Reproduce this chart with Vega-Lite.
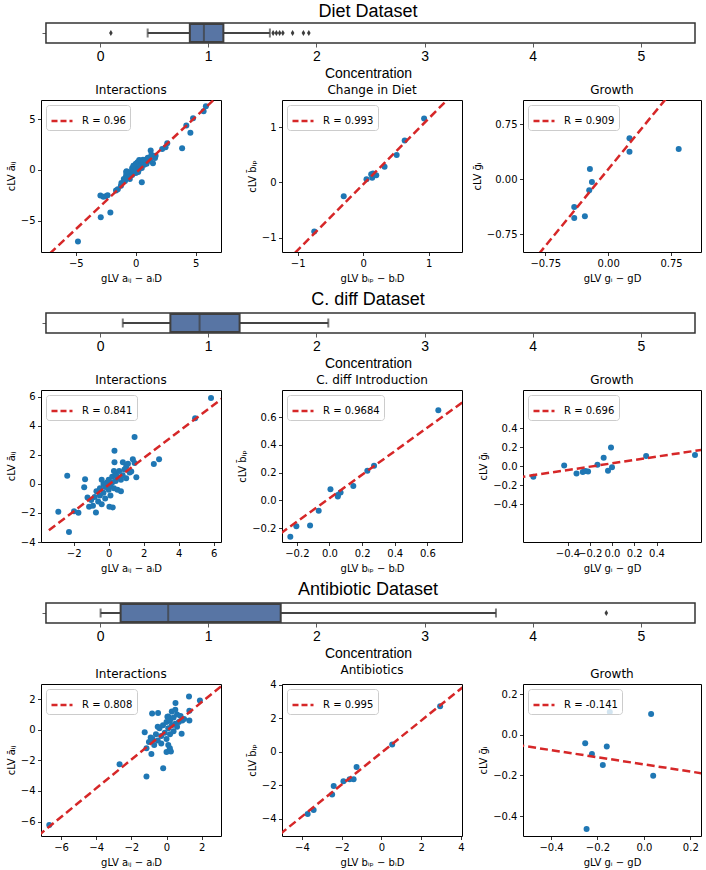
{
"$schema": "https://vega.github.io/schema/vega-lite/v6.json",
"background": "white",
"autosize": {"type": "pad"},
"padding": {"top": 2, "left": 5, "right": 4, "bottom": 2},
"config": {
  "font": "DejaVu Sans",
  "view": {"stroke": "#000000", "strokeWidth": 1},
  "axis": {"grid": false, "domain": false, "labelFont": "DejaVu Sans", "labelFontSize": 10, "labelColor": "#000000", "tickColor": "#000000", "tickSize": 3.5, "tickWidth": 0.8, "labelPadding": 2.5, "titleFont": "DejaVu Sans", "titleFontSize": 10, "titleFontWeight": "normal", "titleColor": "#000000", "titlePadding": 4, "labelFlush": false, "labelOverlap": false},
  "axisX": {"titlePadding": 5.5, "labelOverlap": false},
  "axisY": {"labelOverlap": false},
  "title": {"font": "DejaVu Sans", "fontSize": 12, "fontWeight": "normal", "color": "#000000", "offset": 2.8},
  "legend": {"orient": "top-left", "offset": 5, "padding": 4, "strokeColor": "#cccccc", "fillColor": "rgba(255,255,255,0.8)", "cornerRadius": 3, "labelFont": "DejaVu Sans", "labelFontSize": 10, "labelColor": "#000000", "symbolType": "stroke", "symbolSize": 441, "symbolStrokeWidth": 2.5, "symbolDash": [6, 3], "labelOffset": 8}
},
"datasets": {
  "box": [
    {"ds": "Diet", "lower": 0.44, "q1": 0.83, "median": 0.96, "q3": 1.14, "upper": 1.57},
    {"ds": "Cdiff", "lower": 0.21, "q1": 0.65, "median": 0.92, "q3": 1.29, "upper": 2.11},
    {"ds": "Antibiotic", "lower": 0.005, "q1": 0.19, "median": 0.63, "q3": 1.67, "upper": 3.66}
  ],
  "outliers": [
    {"ds": "Diet", "v": 0.10}, {"ds": "Diet", "v": 1.60}, {"ds": "Diet", "v": 1.63}, {"ds": "Diet", "v": 1.66}, {"ds": "Diet", "v": 1.69}, {"ds": "Diet", "v": 1.78}, {"ds": "Diet", "v": 1.88}, {"ds": "Diet", "v": 1.93},
    {"ds": "Antibiotic", "v": 4.68}
  ],
  "lines": [
    {"p": "diet_int", "x": -7.9, "y": -9.07, "R": "R = 0.96"}, {"p": "diet_int", "x": 7.1, "y": 7.58, "R": "R = 0.96"},
    {"p": "diet_chg", "x": -1.3, "y": -1.583, "R": "R = 0.993"}, {"p": "diet_chg", "x": 1.6, "y": 1.868, "R": "R = 0.993"},
    {"p": "diet_gro", "x": -1.1, "y": -1.403, "R": "R = 0.909"}, {"p": "diet_gro", "x": 0.8, "y": 1.257, "R": "R = 0.909"},
    {"p": "cd_int", "x": -3.42, "y": -3.19, "R": "R = 0.841"}, {"p": "cd_int", "x": 6.6, "y": 6.0, "R": "R = 0.841"},
    {"p": "cd_intro", "x": -0.3, "y": -0.239, "R": "R = 0.9684"}, {"p": "cd_intro", "x": 0.85, "y": 0.736, "R": "R = 0.9684"},
    {"p": "cd_gro", "x": -0.85, "y": -0.122, "R": "R = 0.696"}, {"p": "cd_gro", "x": 0.85, "y": 0.178, "R": "R = 0.696"},
    {"p": "ab_int", "x": -7.3, "y": -6.92, "R": "R = 0.808"}, {"p": "ab_int", "x": 3.2, "y": 2.93, "R": "R = 0.808"},
    {"p": "ab_ab", "x": -5.1, "y": -4.91, "R": "R = 0.995"}, {"p": "ab_ab", "x": 4.1, "y": 3.86, "R": "R = 0.995"},
    {"p": "ab_gro", "x": -0.55, "y": -0.049, "R": "R = -0.141"}, {"p": "ab_gro", "x": 0.27, "y": -0.193, "R": "R = -0.141"}
  ],
  "diet_int": [
    {"x": -4.82, "y": -7.07}, {"x": -2.92, "y": -4.67}, {"x": -2.12, "y": -4.21}, {"x": -2.95, "y": -2.53}, {"x": -2.7, "y": -2.65}, {"x": -2.5, "y": -2.6}, {"x": -2.35, "y": -2.5},
    {"x": -1.65, "y": -2.04}, {"x": -1.5, "y": -1.9}, {"x": -1.24, "y": -1.55}, {"x": -0.96, "y": -1.05}, {"x": -0.83, "y": -0.72}, {"x": -0.77, "y": -0.13}, {"x": -0.41, "y": -0.39},
    {"x": -0.28, "y": 0.1}, {"x": -0.14, "y": 0.43}, {"x": 0.0, "y": -0.07}, {"x": 0.14, "y": 0.76}, {"x": 0.28, "y": 0.99}, {"x": 0.5, "y": -1.22}, {"x": 0.55, "y": 0.59},
    {"x": 0.83, "y": 0.92}, {"x": 1.1, "y": 1.18}, {"x": 1.24, "y": 1.91}, {"x": 1.43, "y": 0.66}, {"x": 1.6, "y": 1.18}, {"x": 1.65, "y": 1.41}, {"x": 2.2, "y": 2.07},
    {"x": 2.48, "y": 2.24}, {"x": 2.62, "y": 2.63}, {"x": 3.86, "y": 2.14}, {"x": 4.21, "y": 4.38}, {"x": 4.55, "y": 3.68}, {"x": 4.77, "y": 5.1}, {"x": 5.65, "y": 5.79}, {"x": 5.84, "y": 6.28},
    {"x": -1.2, "y": -1.3}, {"x": -1.0, "y": -0.9}, {"x": -0.9, "y": -1.1}, {"x": -0.8, "y": -0.5}, {"x": -0.7, "y": -0.8}, {"x": -0.6, "y": -0.3}, {"x": -0.5, "y": -0.6},
    {"x": -0.4, "y": -0.2}, {"x": -0.3, "y": -0.5}, {"x": -0.3, "y": 0.2}, {"x": -0.2, "y": -0.1}, {"x": -0.1, "y": 0.3}, {"x": 0.0, "y": -0.3}, {"x": 0.0, "y": 0.2},
    {"x": 0.1, "y": 0.0}, {"x": 0.1, "y": 0.5}, {"x": 0.2, "y": -0.2}, {"x": 0.2, "y": 0.3}, {"x": 0.3, "y": 0.6}, {"x": 0.3, "y": 0.1}, {"x": 0.4, "y": 0.9},
    {"x": 0.4, "y": 0.4}, {"x": 0.5, "y": 0.2}, {"x": 0.6, "y": 0.7}, {"x": 0.7, "y": 0.5}, {"x": 0.8, "y": 1.0}, {"x": 0.9, "y": 0.6}, {"x": 1.0, "y": 1.2},
    {"x": 1.2, "y": 0.9}, {"x": 1.3, "y": 1.5}, {"x": -0.5, "y": -0.9}, {"x": -0.8, "y": -0.2}, {"x": 0.6, "y": 1.0}, {"x": 0.0, "y": 0.6}, {"x": -0.2, "y": 0.4}
  ],
  "diet_chg": [
    {"x": -0.747, "y": -0.89}, {"x": -0.297, "y": -0.253}, {"x": 0.051, "y": 0.054}, {"x": 0.123, "y": 0.145}, {"x": 0.138, "y": 0.084}, {"x": 0.2, "y": 0.127},
    {"x": 0.15, "y": 0.16}, {"x": 0.327, "y": 0.283}, {"x": 0.512, "y": 0.494}, {"x": 0.634, "y": 0.759}, {"x": 0.931, "y": 1.157}
  ],
  "diet_gro": [
    {"x": 0.254, "y": 0.561}, {"x": 0.254, "y": 0.378}, {"x": 0.841, "y": 0.415}, {"x": -0.218, "y": 0.141}, {"x": -0.194, "y": -0.036},
    {"x": -0.226, "y": -0.15}, {"x": -0.405, "y": -0.378}, {"x": -0.405, "y": -0.529}, {"x": -0.278, "y": -0.506}
  ],
  "cd_int": [
    {"x": 5.85, "y": 5.93}, {"x": 4.94, "y": 4.54}, {"x": 1.48, "y": 3.24}, {"x": 0.33, "y": 2.29}, {"x": 0.33, "y": 1.5}, {"x": -2.37, "y": 0.56}, {"x": -1.35, "y": 0.32},
    {"x": -1.4, "y": -0.23}, {"x": -2.88, "y": -1.92}, {"x": -2.27, "y": -3.31}, {"x": -1.98, "y": -1.88}, {"x": -1.73, "y": -1.99}, {"x": -1.21, "y": -0.93}, {"x": -1.12, "y": -1.57},
    {"x": -0.73, "y": -1.97}, {"x": 0.04, "y": -1.57}, {"x": 0.23, "y": -1.62}, {"x": 1.58, "y": 0.46}, {"x": 2.58, "y": 1.37}, {"x": 2.88, "y": 1.71}, {"x": 0.81, "y": 1.5},
    {"x": 1.38, "y": 1.71}, {"x": 1.29, "y": 0.86}, {"x": 1.0, "y": 1.2}, {"x": 1.48, "y": 1.44},
    {"x": -0.8, "y": -0.9}, {"x": -0.7, "y": -0.5}, {"x": -0.6, "y": -1.2}, {"x": -0.5, "y": -0.3}, {"x": -0.5, "y": -0.8}, {"x": -0.4, "y": -1.4}, {"x": -0.3, "y": -0.6},
    {"x": -0.3, "y": 0.0}, {"x": -0.2, "y": -0.2}, {"x": -0.2, "y": -1.0}, {"x": -0.1, "y": 0.1}, {"x": 0.0, "y": -0.4}, {"x": 0.0, "y": 0.3}, {"x": 0.1, "y": -0.1},
    {"x": 0.1, "y": -0.8}, {"x": 0.2, "y": 0.5}, {"x": 0.2, "y": 0.1}, {"x": 0.3, "y": -0.3}, {"x": 0.4, "y": 0.7}, {"x": 0.4, "y": 0.2}, {"x": 0.5, "y": -0.4},
    {"x": 0.5, "y": 0.5}, {"x": 0.6, "y": 0.9}, {"x": 0.7, "y": 0.3}, {"x": 0.8, "y": 0.6}, {"x": 0.9, "y": 1.0}, {"x": 1.0, "y": 0.4}, {"x": 1.1, "y": 1.4},
    {"x": 1.2, "y": 0.8}, {"x": 0.7, "y": -0.5}, {"x": -0.9, "y": -1.5}, {"x": -1.0, "y": -1.1}, {"x": 0.3, "y": 0.9}, {"x": -0.4, "y": 0.3}
  ],
  "cd_intro": [
    {"x": 0.667, "y": 0.65}, {"x": 0.273, "y": 0.249}, {"x": 0.232, "y": 0.213}, {"x": 0.146, "y": 0.104}, {"x": 0.068, "y": 0.056}, {"x": 0.051, "y": 0.027},
    {"x": 0.051, "y": 0.039}, {"x": 0.006, "y": 0.08}, {"x": -0.066, "y": -0.075}, {"x": -0.119, "y": -0.181}, {"x": -0.203, "y": -0.186}, {"x": -0.24, "y": -0.263}
  ],
  "cd_gro": [
    {"x": -0.707, "y": -0.113}, {"x": -0.43, "y": 0.004}, {"x": -0.319, "y": -0.078}, {"x": -0.263, "y": -0.064}, {"x": -0.239, "y": -0.053}, {"x": -0.215, "y": -0.057},
    {"x": -0.131, "y": 0.014}, {"x": -0.075, "y": 0.088}, {"x": -0.009, "y": 0.195}, {"x": 0.0, "y": -0.014}, {"x": -0.036, "y": -0.05}, {"x": 0.307, "y": 0.106}, {"x": 0.746, "y": 0.117}
  ],
  "ab_int": [
    {"x": -6.67, "y": -6.22}, {"x": -2.67, "y": -2.25}, {"x": -1.14, "y": -3.06}, {"x": -0.19, "y": -2.51}, {"x": -1.24, "y": -0.17}, {"x": -0.82, "y": 1.07},
    {"x": -0.48, "y": 1.09}, {"x": 0.1, "y": 0.87}, {"x": 0.51, "y": 1.75}, {"x": 1.28, "y": 2.18}, {"x": 1.9, "y": 1.92}, {"x": 1.3, "y": 1.24}, {"x": 1.3, "y": 0.61},
    {"x": 0.86, "y": -0.26}, {"x": -1.14, "y": -1.2}, {"x": -0.86, "y": -1.59}, {"x": 0.0, "y": -1.46}, {"x": 0.25, "y": -1.42}, {"x": 0.19, "y": -1.2},
    {"x": -0.8, "y": -0.6}, {"x": -0.6, "y": -0.3}, {"x": -0.5, "y": -0.7}, {"x": -0.4, "y": 0.1}, {"x": -0.3, "y": -0.4}, {"x": -0.2, "y": 0.3}, {"x": -0.1, "y": -0.2},
    {"x": 0.0, "y": 0.5}, {"x": 0.0, "y": -0.6}, {"x": 0.1, "y": 0.1}, {"x": 0.2, "y": 0.6}, {"x": 0.2, "y": -0.3}, {"x": 0.3, "y": 0.3}, {"x": 0.4, "y": 0.8},
    {"x": 0.4, "y": -0.1}, {"x": 0.5, "y": 0.4}, {"x": 0.6, "y": 1.0}, {"x": 0.7, "y": 0.5}, {"x": 0.8, "y": 0.9}, {"x": 0.9, "y": 0.6}, {"x": -0.7, "y": -1.0},
    {"x": -0.3, "y": -0.9}, {"x": 0.1, "y": -1.0}, {"x": 0.3, "y": 1.2}, {"x": -1.0, "y": -0.8}, {"x": -0.5, "y": 0.2}, {"x": 0.05, "y": 0.85}, {"x": 0.5, "y": 1.3},
    {"x": -0.9, "y": -0.5}, {"x": 1.0, "y": 0.7}, {"x": 0.6, "y": 0.2}
  ],
  "ab_ab": [
    {"x": 2.95, "y": 2.72}, {"x": 0.54, "y": 0.44}, {"x": -1.25, "y": -0.91}, {"x": -1.4, "y": -1.63}, {"x": -1.6, "y": -1.63}, {"x": -1.91, "y": -1.75},
    {"x": -2.4, "y": -2.04}, {"x": -2.48, "y": -2.54}, {"x": -3.41, "y": -3.47}, {"x": -3.71, "y": -3.71}
  ],
  "ab_gro": [
    {"x": -0.147, "y": 0.112}, {"x": 0.031, "y": 0.102}, {"x": -0.253, "y": -0.041}, {"x": -0.224, "y": -0.094}, {"x": -0.16, "y": -0.058},
    {"x": -0.177, "y": -0.148}, {"x": 0.04, "y": -0.202}, {"x": -0.247, "y": -0.464}
  ]
},
"spacing": 2,
"resolve": {"scale": {"color": "independent"}, "legend": {"color": "independent"}},
"vconcat": [
  {
    "width": 654, "height": 20, "view": {"stroke": null},
    "title": {"text": "Diet Dataset", "font": "Liberation Sans", "fontSize": 18, "offset": 1.7},
    "layer": [
      {"data": {"name": "box"}, "transform": [{"filter": "datum.ds === 'Diet'"}], "mark": {"type": "rect", "fill": "white", "stroke": "#333333", "strokeWidth": 1.5},
       "encoding": {"x": {"datum": -0.5, "type": "quantitative", "title": "Concentration", "scale": {"domain": [-0.546, 5.5], "nice": false, "zero": false}, "axis": {"values": [0, 1, 2, 3, 4, 5], "format": "d", "labelFont": "Liberation Sans", "labelFontSize": 14, "titleFont": "Liberation Sans", "titleFontSize": 14, "tickSize": 4, "tickColor": "#333333", "titlePadding": 2.8}}, "x2": {"datum": 5.5}}},
      {"data": {"name": "box"}, "transform": [{"filter": "datum.ds === 'Diet'"}], "mark": {"type": "rule", "color": "#444444", "strokeWidth": 2.2},
       "encoding": {"x": {"field": "lower", "type": "quantitative", "title": "Concentration"}, "x2": {"field": "upper"}, "y": {"field": "ds", "type": "nominal", "scale": {"paddingInner": 0, "paddingOuter": 0.05}, "axis": {"labels": false, "title": null, "ticks": true, "tickSize": 4, "tickColor": "#333333", "offset": -5}}}},
      {"data": {"name": "box"}, "transform": [{"filter": "datum.ds === 'Diet'"}], "mark": {"type": "tick", "color": "#444444", "size": 9, "thickness": 2},
       "encoding": {"x": {"field": "lower", "type": "quantitative", "title": "Concentration"}, "y": {"field": "ds", "type": "nominal", "title": null}}},
      {"data": {"name": "box"}, "transform": [{"filter": "datum.ds === 'Diet'"}], "mark": {"type": "tick", "color": "#444444", "size": 9, "thickness": 2},
       "encoding": {"x": {"field": "upper", "type": "quantitative", "title": "Concentration"}, "y": {"field": "ds", "type": "nominal", "title": null}}},
      {"data": {"name": "box"}, "transform": [{"filter": "datum.ds === 'Diet'"}], "mark": {"type": "bar", "fill": "#5875a4", "stroke": "#3f3f3f", "strokeWidth": 2},
       "encoding": {"x": {"field": "q1", "type": "quantitative", "title": "Concentration"}, "x2": {"field": "q3"}, "y": {"field": "ds", "type": "nominal", "title": null}}},
      {"data": {"name": "box"}, "transform": [{"filter": "datum.ds === 'Diet'"}], "mark": {"type": "tick", "color": "#3f3f3f", "size": 18, "thickness": 2},
       "encoding": {"x": {"field": "median", "type": "quantitative", "title": "Concentration"}, "y": {"field": "ds", "type": "nominal", "title": null}}},
      {"data": {"name": "outliers"}, "transform": [{"filter": "datum.ds === 'Diet'"}], "mark": {"type": "point", "shape": "M0,-1L0.6,0L0,1L-0.6,0Z", "filled": true, "color": "#3d3d3d", "opacity": 1, "size": 36},
       "encoding": {"x": {"field": "v", "type": "quantitative", "title": "Concentration"}, "y": {"field": "ds", "type": "nominal", "title": null}}}
    ]
  },
  {
    "bounds": "flush", "spacing": 61,
    "resolve": {"scale": {"color": "independent"}, "legend": {"color": "independent"}},
    "hconcat": [
      {"width": 180, "height": 152, "title": "Interactions", "layer": [
        {"data": {"name": "diet_int"}, "mark": {"type": "circle", "size": 36, "color": "#1f77b4", "opacity": 1},
         "encoding": {"x": {"field": "x", "type": "quantitative", "title": "gLV aᵢⱼ − aᵢD", "scale": {"domain": [-7.9, 7.1], "nice": false, "zero": false}, "axis": {"values": [-5, 0, 5], "tickCount": 12, "format": "d", "labelOverlap": false}},
                      "y": {"field": "y", "type": "quantitative", "title": "cLV āᵢⱼ", "scale": {"domain": [-8.1, 6.9], "nice": false, "zero": false}, "axis": {"values": [-5, 0, 5], "tickCount": 12, "format": "d", "labelOverlap": false}}}},
        {"data": {"name": "lines"}, "transform": [{"filter": "datum.p === 'diet_int'"}], "mark": {"type": "line", "clip": true, "strokeDash": [8, 4], "strokeWidth": 2.5},
         "encoding": {"x": {"field": "x", "type": "quantitative"}, "y": {"field": "y", "type": "quantitative"}, "color": {"field": "R", "type": "nominal", "scale": {"range": ["#d62728"]}, "legend": {"title": null}}}}
      ]},
      {"width": 180, "height": 152, "title": "Change in Diet", "layer": [
        {"data": {"name": "diet_chg"}, "mark": {"type": "circle", "size": 36, "color": "#1f77b4", "opacity": 1},
         "encoding": {"x": {"field": "x", "type": "quantitative", "title": "gLV bᵢₚ − bᵢD", "scale": {"domain": [-1.24, 1.51], "nice": false, "zero": false}, "axis": {"values": [-1, 0, 1], "tickCount": 12, "format": "d", "labelOverlap": false}},
                      "y": {"field": "y", "type": "quantitative", "title": "cLV b̄ᵢₚ", "scale": {"domain": [-1.26, 1.49], "nice": false, "zero": false}, "axis": {"values": [-1, 0, 1], "tickCount": 12, "format": "d", "labelOverlap": false}}}},
        {"data": {"name": "lines"}, "transform": [{"filter": "datum.p === 'diet_chg'"}], "mark": {"type": "line", "clip": true, "strokeDash": [8, 4], "strokeWidth": 2.5},
         "encoding": {"x": {"field": "x", "type": "quantitative"}, "y": {"field": "y", "type": "quantitative"}, "color": {"field": "R", "type": "nominal", "scale": {"range": ["#d62728"]}, "legend": {"title": null}}}}
      ]},
      {"width": 178, "height": 152, "title": "Growth", "layer": [
        {"data": {"name": "diet_gro"}, "mark": {"type": "circle", "size": 36, "color": "#1f77b4", "opacity": 1},
         "encoding": {"x": {"field": "x", "type": "quantitative", "title": "gLV gᵢ − gD", "scale": {"domain": [-1.016, 1.107], "nice": false, "zero": false}, "axis": {"values": [-0.75, 0, 0.75], "tickCount": 12, "format": ".2f", "labelOverlap": false}},
                      "y": {"field": "y", "type": "quantitative", "title": "cLV ḡᵢ", "scale": {"domain": [-0.994, 1.085], "nice": false, "zero": false}, "axis": {"values": [-0.75, 0, 0.75], "tickCount": 12, "format": ".2f", "labelOverlap": false}}}},
        {"data": {"name": "lines"}, "transform": [{"filter": "datum.p === 'diet_gro'"}], "mark": {"type": "line", "clip": true, "strokeDash": [8, 4], "strokeWidth": 2.5},
         "encoding": {"x": {"field": "x", "type": "quantitative"}, "y": {"field": "y", "type": "quantitative"}, "color": {"field": "R", "type": "nominal", "scale": {"range": ["#d62728"]}, "legend": {"title": null}}}}
      ]}
    ]
  },
  {
    "width": 654, "height": 20, "view": {"stroke": null},
    "title": {"text": ["", "C. diff Dataset"], "font": "Liberation Sans", "fontSize": 18, "lineHeight": 5, "offset": 3},
    "layer": [
      {"data": {"name": "box"}, "transform": [{"filter": "datum.ds === 'Cdiff'"}], "mark": {"type": "rect", "fill": "white", "stroke": "#333333", "strokeWidth": 1.5},
       "encoding": {"x": {"datum": -0.5, "type": "quantitative", "title": "Concentration", "scale": {"domain": [-0.546, 5.5], "nice": false, "zero": false}, "axis": {"values": [0, 1, 2, 3, 4, 5], "format": "d", "labelFont": "Liberation Sans", "labelFontSize": 14, "titleFont": "Liberation Sans", "titleFontSize": 14, "tickSize": 4, "tickColor": "#333333", "titlePadding": 2.8}}, "x2": {"datum": 5.5}}},
      {"data": {"name": "box"}, "transform": [{"filter": "datum.ds === 'Cdiff'"}], "mark": {"type": "rule", "color": "#444444", "strokeWidth": 2.2},
       "encoding": {"x": {"field": "lower", "type": "quantitative", "title": "Concentration"}, "x2": {"field": "upper"}, "y": {"field": "ds", "type": "nominal", "scale": {"paddingInner": 0, "paddingOuter": 0.05}, "axis": {"labels": false, "title": null, "ticks": true, "tickSize": 4, "tickColor": "#333333", "offset": -5}}}},
      {"data": {"name": "box"}, "transform": [{"filter": "datum.ds === 'Cdiff'"}], "mark": {"type": "tick", "color": "#444444", "size": 9, "thickness": 2},
       "encoding": {"x": {"field": "lower", "type": "quantitative", "title": "Concentration"}, "y": {"field": "ds", "type": "nominal", "title": null}}},
      {"data": {"name": "box"}, "transform": [{"filter": "datum.ds === 'Cdiff'"}], "mark": {"type": "tick", "color": "#444444", "size": 9, "thickness": 2},
       "encoding": {"x": {"field": "upper", "type": "quantitative", "title": "Concentration"}, "y": {"field": "ds", "type": "nominal", "title": null}}},
      {"data": {"name": "box"}, "transform": [{"filter": "datum.ds === 'Cdiff'"}], "mark": {"type": "bar", "fill": "#5875a4", "stroke": "#3f3f3f", "strokeWidth": 2},
       "encoding": {"x": {"field": "q1", "type": "quantitative", "title": "Concentration"}, "x2": {"field": "q3"}, "y": {"field": "ds", "type": "nominal", "title": null}}},
      {"data": {"name": "box"}, "transform": [{"filter": "datum.ds === 'Cdiff'"}], "mark": {"type": "tick", "color": "#3f3f3f", "size": 18, "thickness": 2},
       "encoding": {"x": {"field": "median", "type": "quantitative", "title": "Concentration"}, "y": {"field": "ds", "type": "nominal", "title": null}}}
    ]
  },
  {
    "bounds": "flush", "spacing": 61,
    "resolve": {"scale": {"color": "independent"}, "legend": {"color": "independent"}},
    "hconcat": [
      {"width": 180, "height": 152, "title": "Interactions", "layer": [
        {"data": {"name": "cd_int"}, "mark": {"type": "circle", "size": 36, "color": "#1f77b4", "opacity": 1},
         "encoding": {"x": {"field": "x", "type": "quantitative", "title": "gLV aᵢⱼ − aᵢD", "scale": {"domain": [-3.87, 6.42], "nice": false, "zero": false}, "axis": {"values": [-2, 0, 2, 4, 6], "tickCount": 12, "format": "d", "labelOverlap": false}},
                      "y": {"field": "y", "type": "quantitative", "title": "cLV āᵢⱼ", "scale": {"domain": [-4.0, 6.48], "nice": false, "zero": false}, "axis": {"values": [-4, -2, 0, 2, 4, 6], "tickCount": 12, "format": "d", "labelOverlap": false}}}},
        {"data": {"name": "lines"}, "transform": [{"filter": "datum.p === 'cd_int'"}], "mark": {"type": "line", "clip": true, "strokeDash": [8, 4], "strokeWidth": 2.5},
         "encoding": {"x": {"field": "x", "type": "quantitative"}, "y": {"field": "y", "type": "quantitative"}, "color": {"field": "R", "type": "nominal", "scale": {"range": ["#d62728"]}, "legend": {"title": null}}}}
      ]},
      {"width": 180, "height": 152, "title": "C. diff Introduction", "layer": [
        {"data": {"name": "cd_intro"}, "mark": {"type": "circle", "size": 36, "color": "#1f77b4", "opacity": 1},
         "encoding": {"x": {"field": "x", "type": "quantitative", "title": "gLV bᵢₚ − bᵢD", "scale": {"domain": [-0.291, 0.812], "nice": false, "zero": false}, "axis": {"values": [-0.2, 0, 0.2, 0.4, 0.6], "tickCount": 12, "format": ".1f", "labelOverlap": false}},
                      "y": {"field": "y", "type": "quantitative", "title": "cLV b̄ᵢₚ", "scale": {"domain": [-0.30, 0.795], "nice": false, "zero": false}, "axis": {"values": [-0.2, 0, 0.2, 0.4, 0.6], "tickCount": 12, "format": ".1f", "labelOverlap": false}}}},
        {"data": {"name": "lines"}, "transform": [{"filter": "datum.p === 'cd_intro'"}], "mark": {"type": "line", "clip": true, "strokeDash": [8, 4], "strokeWidth": 2.5},
         "encoding": {"x": {"field": "x", "type": "quantitative"}, "y": {"field": "y", "type": "quantitative"}, "color": {"field": "R", "type": "nominal", "scale": {"range": ["#d62728"]}, "legend": {"title": null}}}}
      ]},
      {"width": 178, "height": 152, "title": "Growth", "layer": [
        {"data": {"name": "cd_gro"}, "mark": {"type": "circle", "size": 36, "color": "#1f77b4", "opacity": 1},
         "encoding": {"x": {"field": "x", "type": "quantitative", "title": "gLV gᵢ − gD", "scale": {"domain": [-0.8, 0.8], "nice": false, "zero": false}, "axis": {"values": [-0.4, -0.2, 0, 0.2, 0.4], "tickCount": 12, "format": ".1f", "labelOverlap": false}},
                      "y": {"field": "y", "type": "quantitative", "title": "cLV ḡᵢ", "scale": {"domain": [-0.8, 0.8], "nice": false, "zero": false}, "axis": {"values": [-0.4, -0.2, 0, 0.2, 0.4], "tickCount": 12, "format": ".1f", "labelOverlap": false}}}},
        {"data": {"name": "lines"}, "transform": [{"filter": "datum.p === 'cd_gro'"}], "mark": {"type": "line", "clip": true, "strokeDash": [8, 4], "strokeWidth": 2.5},
         "encoding": {"x": {"field": "x", "type": "quantitative"}, "y": {"field": "y", "type": "quantitative"}, "color": {"field": "R", "type": "nominal", "scale": {"range": ["#d62728"]}, "legend": {"title": null}}}}
      ]}
    ]
  },
  {
    "width": 654, "height": 20, "view": {"stroke": null},
    "title": {"text": ["", "Antibiotic Dataset"], "font": "Liberation Sans", "fontSize": 18, "lineHeight": 5, "offset": 3},
    "layer": [
      {"data": {"name": "box"}, "transform": [{"filter": "datum.ds === 'Antibiotic'"}], "mark": {"type": "rect", "fill": "white", "stroke": "#333333", "strokeWidth": 1.5},
       "encoding": {"x": {"datum": -0.5, "type": "quantitative", "title": "Concentration", "scale": {"domain": [-0.546, 5.5], "nice": false, "zero": false}, "axis": {"values": [0, 1, 2, 3, 4, 5], "format": "d", "labelFont": "Liberation Sans", "labelFontSize": 14, "titleFont": "Liberation Sans", "titleFontSize": 14, "tickSize": 4, "tickColor": "#333333", "titlePadding": 2.8}}, "x2": {"datum": 5.5}}},
      {"data": {"name": "box"}, "transform": [{"filter": "datum.ds === 'Antibiotic'"}], "mark": {"type": "rule", "color": "#444444", "strokeWidth": 2.2},
       "encoding": {"x": {"field": "lower", "type": "quantitative", "title": "Concentration"}, "x2": {"field": "upper"}, "y": {"field": "ds", "type": "nominal", "scale": {"paddingInner": 0, "paddingOuter": 0.05}, "axis": {"labels": false, "title": null, "ticks": true, "tickSize": 4, "tickColor": "#333333", "offset": -5}}}},
      {"data": {"name": "box"}, "transform": [{"filter": "datum.ds === 'Antibiotic'"}], "mark": {"type": "tick", "color": "#444444", "size": 9, "thickness": 2},
       "encoding": {"x": {"field": "lower", "type": "quantitative", "title": "Concentration"}, "y": {"field": "ds", "type": "nominal", "title": null}}},
      {"data": {"name": "box"}, "transform": [{"filter": "datum.ds === 'Antibiotic'"}], "mark": {"type": "tick", "color": "#444444", "size": 9, "thickness": 2},
       "encoding": {"x": {"field": "upper", "type": "quantitative", "title": "Concentration"}, "y": {"field": "ds", "type": "nominal", "title": null}}},
      {"data": {"name": "box"}, "transform": [{"filter": "datum.ds === 'Antibiotic'"}], "mark": {"type": "bar", "fill": "#5875a4", "stroke": "#3f3f3f", "strokeWidth": 2},
       "encoding": {"x": {"field": "q1", "type": "quantitative", "title": "Concentration"}, "x2": {"field": "q3"}, "y": {"field": "ds", "type": "nominal", "title": null}}},
      {"data": {"name": "box"}, "transform": [{"filter": "datum.ds === 'Antibiotic'"}], "mark": {"type": "tick", "color": "#3f3f3f", "size": 18, "thickness": 2},
       "encoding": {"x": {"field": "median", "type": "quantitative", "title": "Concentration"}, "y": {"field": "ds", "type": "nominal", "title": null}}},
      {"data": {"name": "outliers"}, "transform": [{"filter": "datum.ds === 'Antibiotic'"}], "mark": {"type": "point", "shape": "M0,-1L0.6,0L0,1L-0.6,0Z", "filled": true, "color": "#3d3d3d", "opacity": 1, "size": 36},
       "encoding": {"x": {"field": "v", "type": "quantitative", "title": "Concentration"}, "y": {"field": "ds", "type": "nominal", "title": null}}}
    ]
  },
  {
    "bounds": "flush", "spacing": 61,
    "resolve": {"scale": {"color": "independent"}, "legend": {"color": "independent"}},
    "hconcat": [
      {"width": 180, "height": 152, "title": "Interactions", "layer": [
        {"data": {"name": "ab_int"}, "mark": {"type": "circle", "size": 36, "color": "#1f77b4", "opacity": 1},
         "encoding": {"x": {"field": "x", "type": "quantitative", "title": "gLV aᵢⱼ − aᵢD", "scale": {"domain": [-7.14, 3.1], "nice": false, "zero": false}, "axis": {"values": [-6, -4, -2, 0, 2], "tickCount": 12, "format": "d", "labelOverlap": false}},
                      "y": {"field": "y", "type": "quantitative", "title": "cLV āᵢⱼ", "scale": {"domain": [-6.94, 2.99], "nice": false, "zero": false}, "axis": {"values": [-6, -4, -2, 0, 2], "tickCount": 12, "format": "d", "labelOverlap": false}}}},
        {"data": {"name": "lines"}, "transform": [{"filter": "datum.p === 'ab_int'"}], "mark": {"type": "line", "clip": true, "strokeDash": [8, 4], "strokeWidth": 2.5},
         "encoding": {"x": {"field": "x", "type": "quantitative"}, "y": {"field": "y", "type": "quantitative"}, "color": {"field": "R", "type": "nominal", "scale": {"range": ["#d62728"]}, "legend": {"title": null}}}}
      ]},
      {"width": 180, "height": 152, "title": "Antibiotics", "layer": [
        {"data": {"name": "ab_ab"}, "mark": {"type": "circle", "size": 36, "color": "#1f77b4", "opacity": 1},
         "encoding": {"x": {"field": "x", "type": "quantitative", "title": "gLV bᵢₚ − bᵢD", "scale": {"domain": [-5.0, 4.05], "nice": false, "zero": false}, "axis": {"values": [-4, -2, 0, 2, 4], "tickCount": 12, "format": "d", "labelOverlap": false}},
                      "y": {"field": "y", "type": "quantitative", "title": "cLV b̄ᵢₚ", "scale": {"domain": [-5.02, 4.04], "nice": false, "zero": false}, "axis": {"values": [-4, -2, 0, 2, 4], "tickCount": 12, "format": "d", "labelOverlap": false}}}},
        {"data": {"name": "lines"}, "transform": [{"filter": "datum.p === 'ab_ab'"}], "mark": {"type": "line", "clip": true, "strokeDash": [8, 4], "strokeWidth": 2.5},
         "encoding": {"x": {"field": "x", "type": "quantitative"}, "y": {"field": "y", "type": "quantitative"}, "color": {"field": "R", "type": "nominal", "scale": {"range": ["#d62728"]}, "legend": {"title": null}}}}
      ]},
      {"width": 178, "height": 152, "title": "Growth", "layer": [
        {"data": {"name": "ab_gro"}, "mark": {"type": "circle", "size": 36, "color": "#1f77b4", "opacity": 1},
         "encoding": {"x": {"field": "x", "type": "quantitative", "title": "gLV gᵢ − gD", "scale": {"domain": [-0.521, 0.246], "nice": false, "zero": false}, "axis": {"values": [-0.4, -0.2, 0, 0.2], "tickCount": 12, "format": ".1f", "labelOverlap": false}},
                      "y": {"field": "y", "type": "quantitative", "title": "cLV ḡᵢ", "scale": {"domain": [-0.498, 0.25], "nice": false, "zero": false}, "axis": {"values": [-0.4, -0.2, 0, 0.2], "tickCount": 12, "format": ".1f", "labelOverlap": false}}}},
        {"data": {"name": "lines"}, "transform": [{"filter": "datum.p === 'ab_gro'"}], "mark": {"type": "line", "clip": true, "strokeDash": [8, 4], "strokeWidth": 2.5},
         "encoding": {"x": {"field": "x", "type": "quantitative"}, "y": {"field": "y", "type": "quantitative"}, "color": {"field": "R", "type": "nominal", "scale": {"range": ["#d62728"]}, "legend": {"title": null}}}}
      ]}
    ]
  }
]
}
